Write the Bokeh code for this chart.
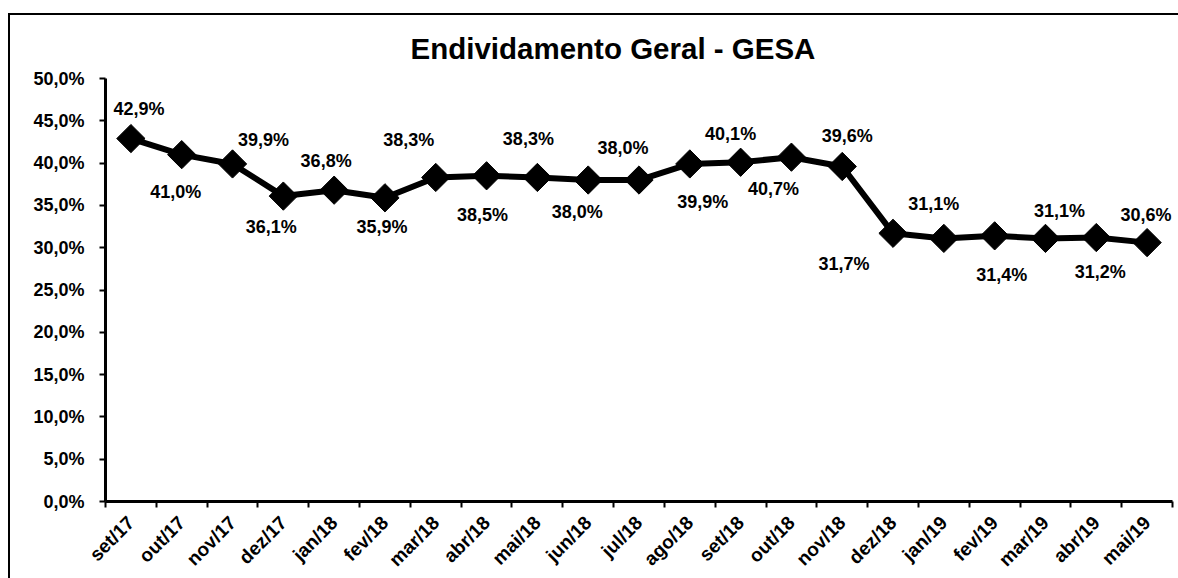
import math
from bokeh.plotting import figure
from bokeh.models import (ColumnDataSource, Range1d, FixedTicker, CustomJSTickFormatter,
                          LabelSet)
from bokeh.core.properties import value
from bokeh.embed import file_html
from bokeh.resources import INLINE

# ---- data ----
categories = ["set/17", "out/17", "nov/17", "dez/17", "jan/18", "fev/18", "mar/18",
              "abr/18", "mai/18", "jun/18", "jul/18", "ago/18", "set/18", "out/18",
              "nov/18", "dez/18", "jan/19", "fev/19", "mar/19", "abr/19", "mai/19"]
values = [42.9, 41.0, 39.9, 36.1, 36.8, 35.9, 38.3, 38.5, 38.3, 38.0, 38.0,
          39.9, 40.1, 40.7, 39.6, 31.7, 31.1, 31.4, 31.1, 31.2, 30.6]
y_ticks = [0, 5, 10, 15, 20, 25, 30, 35, 40, 45, 50]
title_text = "Endividamento Geral - GESA"

# ---- label placement (screen px, +x right, +y up) ----
label_dx = [8, -6, 31, -12, -8, -3, -27, -4, -9, -11, -16, 13, -10, -18, 5, -49, -10, 7, 14, 4, -1]
label_dy = [30, -37, 24, -31, 29, -29, 37, -39, 38, -32, 32, -38, 28, -32, 30, -31, 34, -39, 27, -34, 28]

FONT = "Liberation Sans"

xs = list(range(len(categories)))
labels = [f"{v:.1f}".replace(".", ",") + "%" for v in values]
src = ColumnDataSource(dict(x=xs, y=values, lab=labels, dx=label_dx, dy=label_dy))

x0, x1 = -0.5, len(categories) - 0.5
p = figure(width=1170, height=565, output_backend="svg", toolbar_location=None,
           x_range=Range1d(x0, x1), y_range=Range1d(0, 50),
           min_border_left=95, min_border_right=8, min_border_top=63, min_border_bottom=79)
p.styles = {"border-top": "2px solid black", "border-left": "2px solid black",
            "margin-top": "13px", "margin-left": "8px"}

p.title.text = title_text
p.title.align = "left"
p.title.offset = 305
p.title.standoff = 27
p.title.text_font = FONT
p.title.text_font_size = "29.5px"
p.title.text_font_style = "bold"
p.title.text_color = "black"

p.outline_line_color = None
p.xgrid.visible = False
p.ygrid.visible = False

p.line("x", "y", source=src, line_color="black", line_width=6)
p.scatter("x", "y", source=src, marker="square", size=20, angle=math.pi / 4,
          fill_color="black", line_color="black", line_width=1)

p.add_layout(LabelSet(x="x", y="y", text="lab", source=src, x_offset="dx", y_offset="dy",
                      text_align="center", text_baseline="middle", text_font=value(FONT),
                      text_font_size=value("18px"), text_font_style="bold", text_color="black"))

# y axis
ya = p.yaxis[0]
ya.ticker = FixedTicker(ticks=y_ticks, minor_ticks=[])
ya.formatter = CustomJSTickFormatter(code="return tick.toFixed(1).replace('.', ',') + '%';")
ya.axis_line_width = 3
ya.axis_line_color = "black"
ya.major_tick_line_width = 2
ya.major_tick_out = 6
ya.major_tick_in = 0
ya.major_label_standoff = 15
ya.major_label_text_font = FONT
ya.major_label_text_font_size = "18px"
ya.major_label_text_font_style = "bold"
ya.major_label_text_color = "black"

# x axis
xa = p.xaxis[0]
xa.ticker = FixedTicker(ticks=xs, minor_ticks=[i - 0.5 for i in range(len(categories) + 1)])
xa.major_label_overrides = {i: c for i, c in enumerate(categories)}
xa.axis_line_width = 3
xa.axis_line_color = "black"
xa.major_tick_out = 0
xa.major_tick_in = 0
xa.minor_tick_out = 6
xa.minor_tick_in = 0
xa.minor_tick_line_width = 2
xa.minor_tick_line_color = "black"
xa.major_label_orientation = math.pi / 4
xa.major_label_standoff = 12
xa.major_label_text_font = FONT
xa.major_label_text_font_size = "19px"
xa.major_label_text_font_style = "bold"
xa.major_label_text_color = "black"

open("out.html", "w").write(file_html(p, INLINE))
